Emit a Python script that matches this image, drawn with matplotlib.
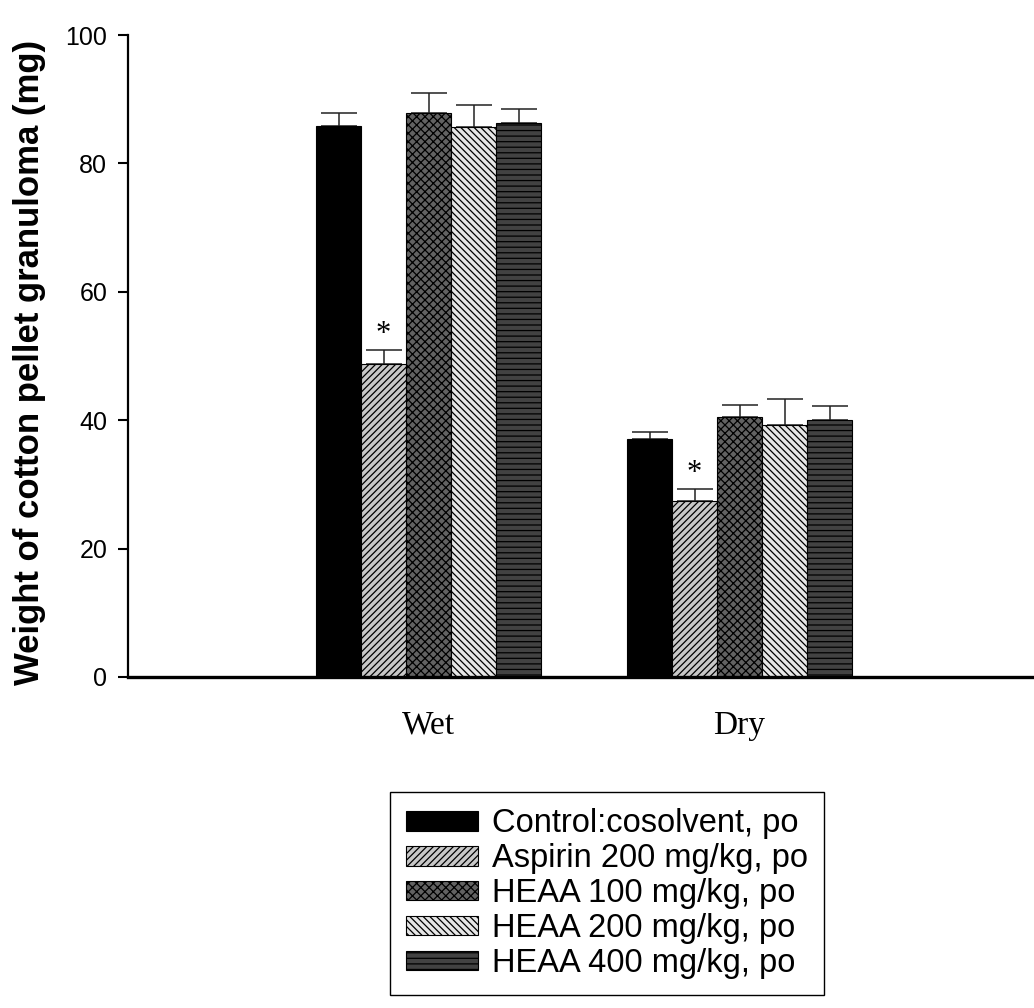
import matplotlib
matplotlib.use("Agg")
import matplotlib.pyplot as plt
import numpy as np

GROUPS = ["Wet", "Dry"]
LABELS = [
    "Control:cosolvent, po",
    "Aspirin 200 mg/kg, po",
    "HEAA 100 mg/kg, po",
    "HEAA 200 mg/kg, po",
    "HEAA 400 mg/kg, po",
]
control = [85.8, 37.0]
control_err = [2.1, 1.2]
aspirin = [48.7, 27.4]
aspirin_err = [2.2, 1.9]
heaa100 = [87.8, 40.5]
heaa100_err = [3.1, 1.8]
heaa200 = [85.7, 39.3]
heaa200_err = [3.4, 4.0]
heaa400 = [86.3, 40.0]
heaa400_err = [2.2, 2.2]
SIGNIFICANT = [False, True, False, False, False]

STYLES = [
    dict(facecolor="#000000", hatch=None),
    dict(facecolor="#c8c8c8", hatch="/////"),
    dict(facecolor="#626262", hatch="xxxx"),
    dict(facecolor="#e6e6e6", hatch="\\\\\\\\\\"),
    dict(facecolor="#424242", hatch="---"),
]

plt.rcParams["font.family"] = ["Liberation Sans", "DejaVu Sans"]
plt.rcParams["hatch.linewidth"] = 0.9

fig = plt.figure(figsize=(10.34, 10.08), dpi=100)
ax = fig.add_axes([128 / 1034, 331 / 1008, 906 / 1034, 642 / 1008])

values = [control, aspirin, heaa100, heaa200, heaa400]
errors = [control_err, aspirin_err, heaa100_err, heaa200_err, heaa400_err]
x = np.arange(len(GROUPS))
width = 45 / 311
handles = []
for i, (vals, errs, style) in enumerate(zip(values, errors, STYLES)):
    pos = x + (i - 2) * width
    b = ax.bar(pos, vals, width, color=style["facecolor"], edgecolor="black",
               linewidth=0.8, hatch=style["hatch"], label=LABELS[i], zorder=2)
    handles.append(b)
    ax.errorbar(pos, vals, yerr=[np.zeros(len(errs)), errs], fmt="none",
                ecolor="#222222", elinewidth=1.1, capsize=13, capthick=1.1, zorder=1)
    if SIGNIFICANT[i]:
        for p, v, e in zip(pos, vals, errs):
            ax.text(p, v + e + 0.2, "*", ha="center", va="bottom",
                    fontsize=22, family="Liberation Serif")

ax.set_xlim((128 - 428.5) / 311, (1034 - 428.5) / 311)
ax.set_ylim(0, 100)
ax.set_yticks([0, 20, 40, 60, 80, 100])
ax.set_xticks(x)
ax.set_xticklabels(GROUPS, family="Liberation Serif", fontsize=24)
ax.tick_params(axis="x", length=0, pad=24)
ax.tick_params(axis="y", length=7, width=1.5, pad=8, labelsize=18)
ax.spines["top"].set_visible(False)
ax.spines["right"].set_visible(False)
ax.spines["left"].set_linewidth(1.6)
ax.spines["bottom"].set_linewidth(2.4)
ax.set_ylabel("Weight of cotton pellet granuloma (mg)", fontsize=25, fontweight="bold")
ax.yaxis.set_label_coords(-0.091, 0.49)

leg = fig.legend(handles=handles, loc="upper left",
                 bbox_to_anchor=(390 / 1034, 1 - 792 / 1008), borderaxespad=0,
                 fontsize=23.5, handlelength=2.2, handleheight=0.55,
                 handletextpad=0.42, labelspacing=0.12, borderpad=0.5,
                 fancybox=False, framealpha=1, edgecolor="black")
leg.get_frame().set_linewidth(1.0)

fig.savefig("out.png", dpi=100)
